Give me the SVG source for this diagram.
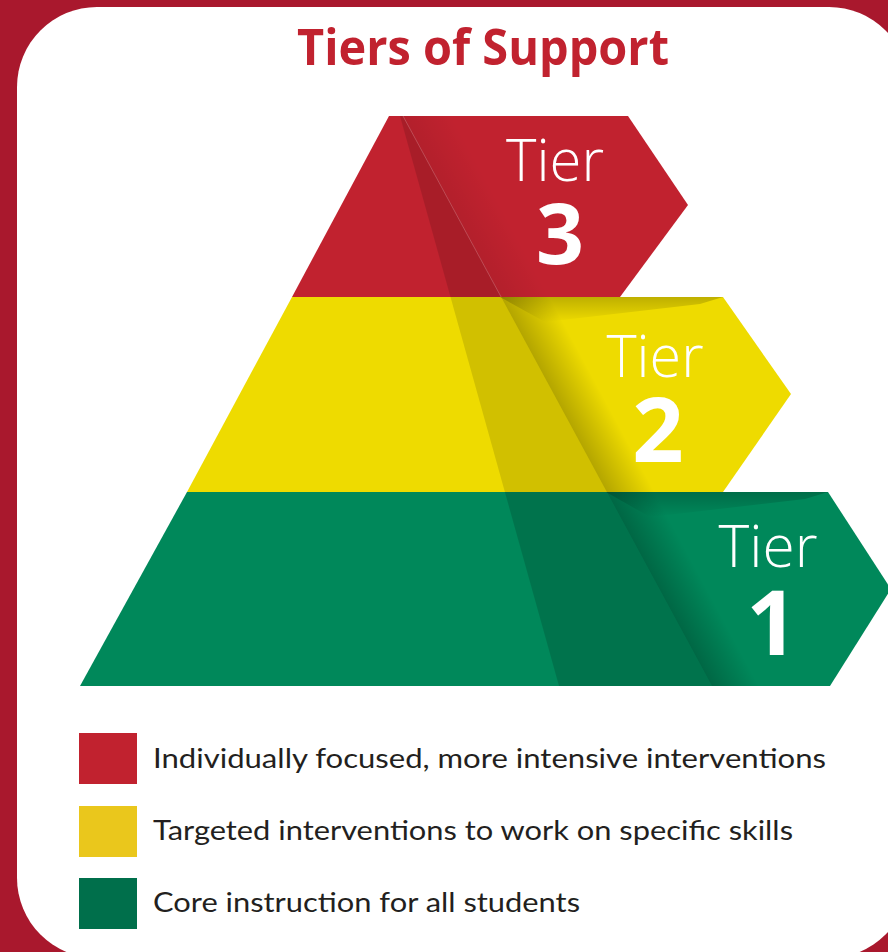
<svg xmlns="http://www.w3.org/2000/svg" width="888" height="952" viewBox="0 0 888 952">
  <defs>
    <style>
      .title { font-family: "Open Sans", "Liberation Sans", sans-serif; font-weight: 700; fill: #C1222F; }
      .tier { font-family: "Open Sans", "Liberation Sans", sans-serif; font-weight: 300; fill: #FFFFFF; }
      .num { font-family: "Open Sans", "Liberation Sans", sans-serif; font-weight: 700; fill: #FFFFFF; }
      .legend { font-family: "Lato", "Liberation Sans", sans-serif; font-size: 26px; fill: #231F20; }
    </style>
    <linearGradient id="foldShade" gradientUnits="userSpaceOnUse" x1="402" y1="116" x2="441" y2="95">
      <stop offset="0" stop-color="#000" stop-opacity="0.3"/>
      <stop offset="1" stop-color="#000" stop-opacity="0"/>
    </linearGradient>
    <linearGradient id="topShade" x1="0" y1="0" x2="0" y2="1">
      <stop offset="0" stop-color="#000" stop-opacity="0.2"/>
      <stop offset="1" stop-color="#000" stop-opacity="0"/>
    </linearGradient>
    <clipPath id="clipRed"><polygon points="389,116 628,116 688,205 620,297 292,297"/></clipPath>
    <clipPath id="clipYellow"><polygon points="292,297 723,297 791,394 723,492 187,492"/></clipPath>
    <clipPath id="clipGreen"><polygon points="187,492 828,492 891,589 830,686 80,686"/></clipPath>
  </defs>

  <rect x="0" y="0" width="888" height="952" fill="#A9182D"/>
  <rect x="17" y="7" width="892" height="951" rx="80" ry="80" fill="#FFFFFF"/>

  <text class="title" x="483" y="65" font-size="50" text-anchor="middle" textLength="372" lengthAdjust="spacingAndGlyphs">Tiers of Support</text>

  <g id="tier3">
    <polygon points="389,116 628,116 688,205 620,297 292,297" fill="#C1222F"/>
    <g clip-path="url(#clipRed)">
      <polygon points="400,116 403,116 712,686 559,686" fill="#000" fill-opacity="0.13"/>
      <polygon points="403,116 712,686 760,686 451,116" fill="url(#foldShade)" opacity="0.25"/>
      <line x1="403" y1="116" x2="712" y2="686" stroke="#FFFFFF" stroke-opacity="0.2" stroke-width="1"/>
    </g>
    <text class="tier" x="555" y="181" font-size="59" text-anchor="middle" textLength="98" lengthAdjust="spacingAndGlyphs">Tier</text>
    <text class="num" x="560" y="264" font-size="84" text-anchor="middle">3</text>
  </g>

  <g id="tier2">
    <polygon points="292,297 723,297 791,394 723,492 187,492" fill="#EEDB00"/>
    <g clip-path="url(#clipYellow)">
      <polygon points="400,116 403,116 712,686 559,686" fill="#000" fill-opacity="0.12"/>
      <polygon points="403,116 712,686 760,686 451,116" fill="url(#foldShade)" opacity="0.85"/>
      <polygon points="500,297 723,297 700,304 545,322" fill="url(#topShade)"/>
    </g>
    <text class="tier" x="655" y="377" font-size="59" text-anchor="middle" textLength="97" lengthAdjust="spacingAndGlyphs">Tier</text>
    <text class="num" x="658" y="462" font-size="90" text-anchor="middle">2</text>
  </g>

  <g id="tier1">
    <polygon points="187,492 828,492 891,589 830,686 80,686" fill="#00885A"/>
    <g clip-path="url(#clipGreen)">
      <polygon points="400,116 403,116 712,686 559,686" fill="#000" fill-opacity="0.15"/>
      <polygon points="403,116 712,686 760,686 451,116" fill="url(#foldShade)" opacity="0.85"/>
      <polygon points="606,492 828,492 805,499 650,517" fill="url(#topShade)"/>
    </g>
    <text class="tier" x="768" y="567" font-size="59" text-anchor="middle" textLength="99" lengthAdjust="spacingAndGlyphs">Tier</text>
    <text class="num" x="772" y="655" font-size="90" text-anchor="middle">1</text>
  </g>

  <g id="legend-tier3">
    <rect x="79" y="733" width="58" height="51" fill="#C1222F"/>
    <text class="legend" x="153" y="768" textLength="673" lengthAdjust="spacingAndGlyphs">Individually focused, more intensive interventions</text>
  </g>
  <g id="legend-tier2">
    <rect x="79" y="806" width="58" height="51" fill="#EAC71C"/>
    <text class="legend" x="153" y="840" textLength="640" lengthAdjust="spacingAndGlyphs">Targeted interventions to work on specific skills</text>
  </g>
  <g id="legend-tier1">
    <rect x="79" y="878" width="58" height="51" fill="#006F4B"/>
    <text class="legend" x="153" y="912" textLength="427" lengthAdjust="spacingAndGlyphs">Core instruction for all students</text>
  </g>
</svg>
